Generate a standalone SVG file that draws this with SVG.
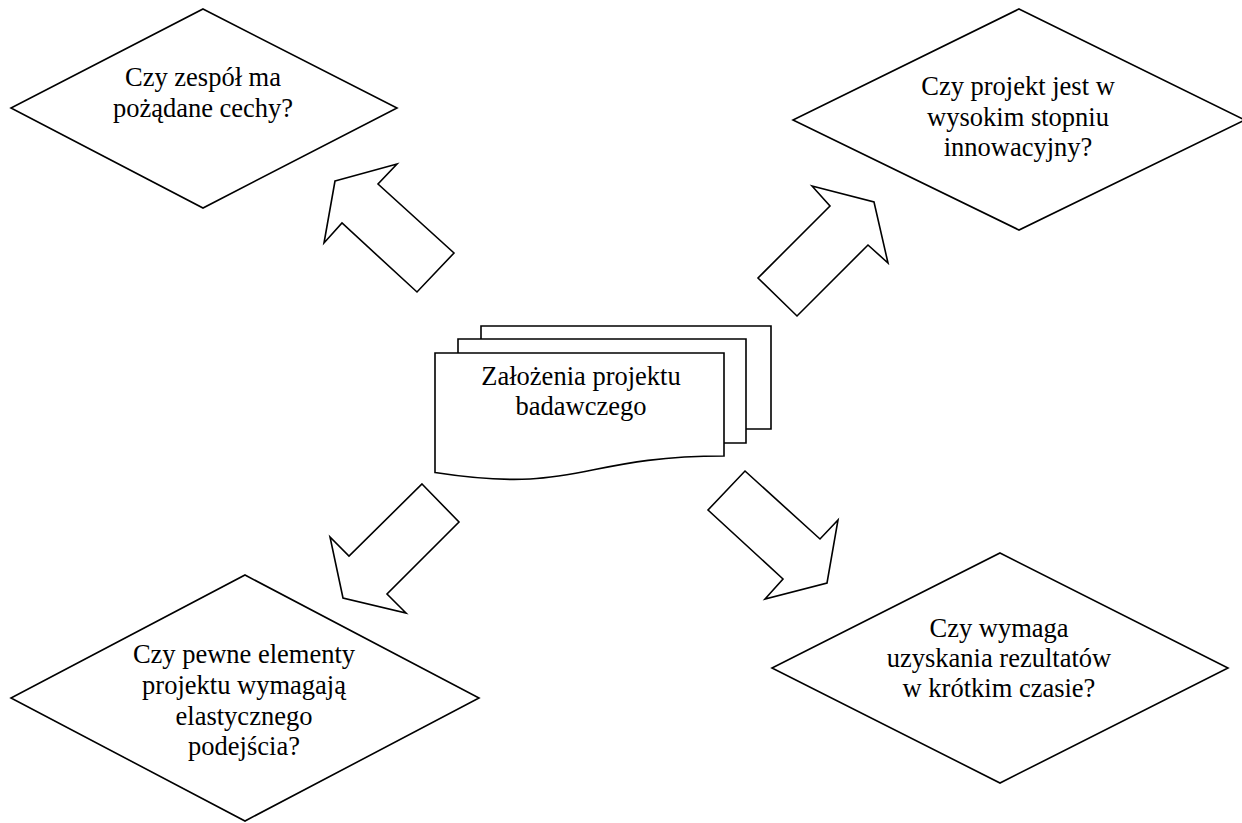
<svg xmlns="http://www.w3.org/2000/svg" width="1242" height="823" viewBox="0 0 1242 823">
<style>
.s{fill:#fff;stroke:#000;stroke-width:1.6;stroke-linejoin:miter}
.t{font-family:"Liberation Serif","Times New Roman",serif;font-size:26.5px;fill:#000;text-anchor:middle}
</style>
<rect width="1242" height="823" fill="#fff"/>
<g id="connectors">
<polygon class="s" points="335,181 397,164 378,184 454,253 417,292 342,223 324,243"/>
<polygon class="s" points="812,186 874,202 888,263 868,245 797,316 758,278 830,206"/>
<polygon class="s" points="422,484 459,522 387,594 406,613 343,598 330,537 349,556"/>
<polygon class="s" points="745,471 820,539 838,520 827,583 765,599 783,579 708,510"/>
</g>
<g id="doc">
<path class="s" d="M481,339 V326 H771 V429 H746"/>
<path class="s" d="M458,353 V339 H746 V443 H724"/>
<path class="s" d="M435,353 H724 V456 C579.5,456 579.5,494.8 435,472.5 Z"/>
<text class="t"><tspan x="581" y="385">Założenia projektu</tspan><tspan x="581" y="415">badawczego</tspan></text>
</g>
<g id="d1">
<polygon class="s" points="203,9 397,108 203,208 11,108"/>
<text class="t"><tspan x="203" y="86">Czy zespół ma</tspan><tspan x="203" y="116.5">pożądane cechy?</tspan></text>
</g>
<g id="d2">
<polygon class="s" points="1019,9 1245,120 1019,230 793,120"/>
<text class="t"><tspan x="1018" y="95">Czy projekt jest w</tspan><tspan x="1018" y="125.5">wysokim stopniu</tspan><tspan x="1018" y="156">innowacyjny?</tspan></text>
</g>
<g id="d3">
<polygon class="s" points="245,575 479,698 245,821 11,698"/>
<text class="t"><tspan x="244" y="663">Czy pewne elementy</tspan><tspan x="244" y="694">projektu wymagają</tspan><tspan x="244" y="725">elastycznego</tspan><tspan x="244" y="755">podejścia?</tspan></text>
</g>
<g id="d4">
<polygon class="s" points="1000,553 1228,668 1000,783 772,668"/>
<text class="t"><tspan x="999" y="637">Czy wymaga</tspan><tspan x="999" y="667">uzyskania rezultatów</tspan><tspan x="999" y="697">w krótkim czasie?</tspan></text>
</g>
</svg>
